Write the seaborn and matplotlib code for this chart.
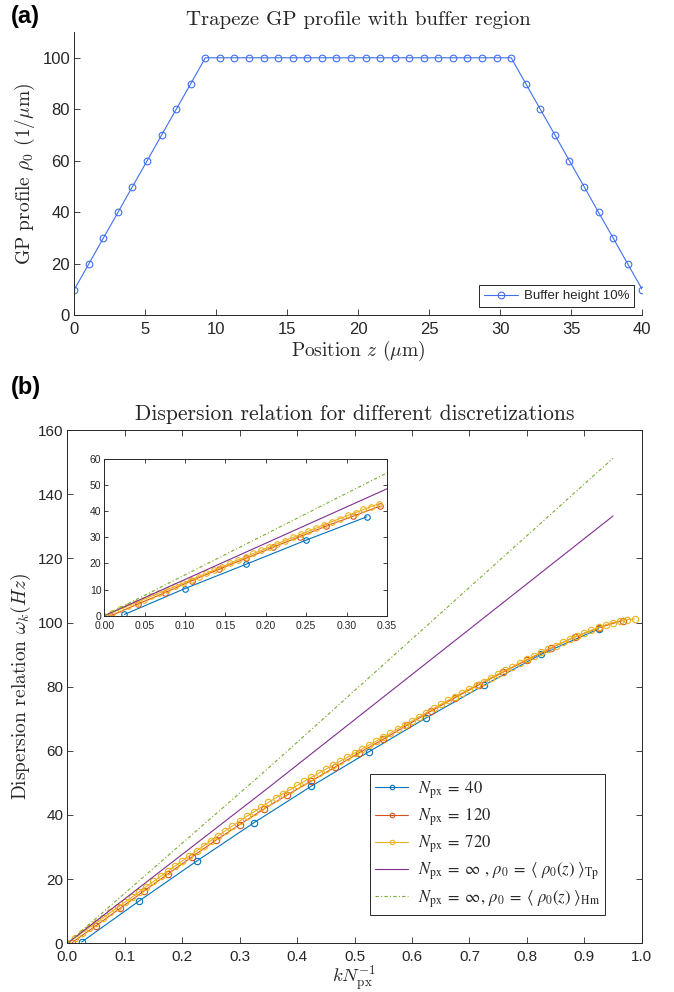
import matplotlib
matplotlib.use('Agg')
import matplotlib.pyplot as plt
from matplotlib.font_manager import FontProperties
from matplotlib.ticker import FormatStrFormatter
import seaborn as sns

# ---- (a) trapeze GP profile, 40 grid points ----
z_pos = [0.00, 1.03, 2.05, 3.08, 4.10, 5.13, 6.15, 7.18, 8.21, 9.23,
         10.26, 11.28, 12.31, 13.33, 14.36, 15.38, 16.41, 17.44, 18.46, 19.49,
         20.51, 21.54, 22.56, 23.59, 24.62, 25.64, 26.67, 27.69, 28.72, 29.74,
         30.77, 31.79, 32.82, 33.85, 34.87, 35.90, 36.92, 37.95, 38.97, 40.00]
gp_profile = [10, 20, 30, 40, 50, 60, 70, 80, 90, 100,
              100, 100, 100, 100, 100, 100, 100, 100, 100, 100,
              100, 100, 100, 100, 100, 100, 100, 100, 100, 100,
              100, 90, 80, 70, 60, 50, 40, 30, 20, 10]

# ---- (b) dispersion relation, main axes ----
k_40 = [0.025, 0.125, 0.225, 0.325, 0.425, 0.525, 0.625, 0.725, 0.825, 0.925]
w_40 = [0.4, 13.2, 25.6, 37.6, 49.0, 59.7, 70.3, 80.4, 90.1, 98.0]

k_120 = [0.0083, 0.0500, 0.0917, 0.1333, 0.1750, 0.2167, 0.2583, 0.3000,
         0.3417, 0.3833, 0.4250, 0.4667, 0.5083, 0.5500, 0.5917, 0.6333,
         0.6750, 0.7167, 0.7583, 0.8000, 0.8417, 0.8833, 0.9250, 0.9667]
w_120 = [0.2, 5.5, 10.9, 16.3, 21.6, 26.9, 32.1, 37.0,
         41.8, 46.3, 50.6, 55.0, 59.4, 63.6, 68.0, 72.4,
         76.6, 80.6, 84.5, 88.3, 92.0, 95.5, 98.4, 100.6]

k_720 = [0.0000, 0.0125, 0.0250, 0.0375, 0.0500, 0.0625, 0.0750, 0.0875,
         0.1000, 0.1125, 0.1250, 0.1375, 0.1500, 0.1625, 0.1750, 0.1875,
         0.2000, 0.2125, 0.2250, 0.2375, 0.2500, 0.2625, 0.2750, 0.2875,
         0.3000, 0.3125, 0.3250, 0.3375, 0.3500, 0.3625, 0.3750, 0.3875,
         0.4000, 0.4125, 0.4250, 0.4375, 0.4500, 0.4625, 0.4750, 0.4875,
         0.5000, 0.5125, 0.5250, 0.5375, 0.5500, 0.5625, 0.5750, 0.5875,
         0.6000, 0.6125, 0.6250, 0.6375, 0.6500, 0.6625, 0.6750, 0.6875,
         0.7000, 0.7125, 0.7250, 0.7375, 0.7500, 0.7625, 0.7750, 0.7875,
         0.8000, 0.8125, 0.8250, 0.8375, 0.8500, 0.8625, 0.8750, 0.8875,
         0.9000, 0.9125, 0.9250, 0.9375, 0.9500, 0.9625, 0.9750, 0.9875]
w_720 = [0.0, 1.6, 3.2, 4.8, 6.4, 8.0, 9.6, 11.2,
         12.8, 14.4, 16.0, 17.7, 19.3, 20.9, 22.5, 24.1,
         25.7, 27.3, 28.8, 30.4, 32.0, 33.5, 35.1, 36.6,
         38.1, 39.6, 41.0, 42.5, 43.9, 45.3, 46.6, 47.9,
         49.2, 50.5, 51.8, 53.0, 54.3, 55.5, 56.8, 58.0,
         59.3, 60.5, 61.8, 63.0, 64.2, 65.5, 66.8, 68.0,
         69.3, 70.6, 71.9, 73.2, 74.5, 75.7, 76.9, 78.1,
         79.3, 80.5, 81.6, 82.8, 84.0, 85.1, 86.2, 87.4,
         88.5, 89.6, 90.7, 91.8, 92.8, 93.8, 94.8, 95.8,
         96.7, 97.6, 98.5, 99.3, 100.0, 100.5, 100.9, 101.1]

k_theory = [0.0, 0.35, 0.95]
w_tp = [0.0, 48.5, 133.2]
w_hm = [0.0, 54.6, 151.2]

# ---- (b) inset, zoom on small k ----
k_40_in = [0.025, 0.100, 0.175, 0.250, 0.325]
w_40_in = [0.5, 10.4, 19.6, 28.9, 37.8]

k_120_in = [0.0083, 0.0417, 0.0750, 0.1083, 0.1417, 0.1750,
            0.2083, 0.2417, 0.2750, 0.3083, 0.3417]
w_120_in = [0.0, 4.5, 8.8, 13.4, 17.7, 21.9, 26.1, 30.2, 34.3, 38.1, 41.9]

k_720_in = [0.0000, 0.0097, 0.0194, 0.0292, 0.0389, 0.0486, 0.0583, 0.0681,
            0.0778, 0.0875, 0.0972, 0.1069, 0.1167, 0.1264, 0.1361, 0.1458,
            0.1556, 0.1653, 0.1750, 0.1847, 0.1944, 0.2042, 0.2139, 0.2236,
            0.2333, 0.2431, 0.2528, 0.2625, 0.2722, 0.2819, 0.2917, 0.3014,
            0.3111, 0.3208, 0.3306, 0.3403]
w_720_in = [0.0, 1.2, 2.5, 3.7, 5.0, 6.2, 7.5, 8.7,
            10.0, 11.2, 12.4, 13.7, 14.9, 16.2, 17.5, 18.8,
            20.0, 21.3, 22.5, 23.8, 25.0, 26.2, 27.5, 28.7,
            29.9, 31.1, 32.3, 33.5, 34.8, 36.0, 37.1, 38.3,
            39.4, 40.6, 41.7, 42.8]

legend_b = [r'$N_{\mathrm{px}}\;=\;40$',
            r'$N_{\mathrm{px}}\;=\;120$',
            r'$N_{\mathrm{px}}\;=\;720$',
            r'$N_{\mathrm{px}}\;=\;\infty\ ,\,\rho_0\;=\;\langle\ \rho_0(z)\ \rangle_{\mathrm{Tp}}$',
            r'$N_{\mathrm{px}}\;=\;\infty,\,\rho_0\;=\;\langle\ \rho_0(z)\ \rangle_{\mathrm{Hm}}$']

c_prof = '#4070f0'
c_40, c_120, c_720 = '#0072BD', '#D95319', '#EDB120'
c_tp, c_hm = '#7E2F8E', '#77AC30'
ink = '#262626'

sns.set_theme(style='ticks')
plt.rcParams['font.family'] = ['Liberation Sans', 'DejaVu Sans']
plt.rcParams['mathtext.fontset'] = 'cm'
plt.rcParams['axes.unicode_minus'] = False


def style_axes(ax, box=True, size=11):
    ax.tick_params(direction='in', length=4.5, width=0.6, colors=ink,
                   labelsize=size, top=box, right=box, pad=3)
    for name, sp in ax.spines.items():
        sp.set_color(ink)
        sp.set_linewidth(0.7)
        if not box and name in ('top', 'right'):
            sp.set_visible(False)


def draw(ax, k, w, color, ms=4.0, ls='-', marker=True):
    kw = dict(color=color, linewidth=0.8, linestyle=ls)
    if marker:
        kw.update(marker='o', markersize=ms, markerfacecolor='none',
                  markeredgecolor=color, markeredgewidth=0.8)
    sns.lineplot(x=k, y=w, ax=ax, sort=False, estimator=None, legend=False, **kw)


fig = plt.figure(figsize=(6.74, 9.92), dpi=100)
serif = 'cmr10'

# ---------- panel (a) ----------
ax_a = fig.add_axes([0.1102, 0.6822, 0.8427, 0.2855])
draw(ax_a, z_pos, gp_profile, c_prof, ms=4.8)
ax_a.set_xlim(0, 40)
ax_a.set_ylim(0, 110)
ax_a.set_xticks(range(0, 41, 5))
ax_a.set_yticks(range(0, 101, 20))
style_axes(ax_a, box=False, size=12)
ax_a.tick_params(axis='x', pad=5)
ax_a.set_title('Trapeze GP profile with buffer region', fontfamily=serif,
               fontsize=15, pad=5)
ax_a.set_xlabel(r'Position $z$ ($\mu$m)', fontfamily=serif, fontsize=14, labelpad=1)
ax_a.set_ylabel(r'GP profile $\rho_0$ (1/$\mu$m)', fontfamily=serif, fontsize=14, labelpad=4)
leg_a = ax_a.legend(handles=ax_a.lines[:1], labels=['Buffer height 10%'],
                    loc='lower right', bbox_to_anchor=(0.985, 0.03), borderaxespad=0,
                    fontsize=9.5, fancybox=False, framealpha=1, edgecolor=ink,
                    handlelength=2.6, borderpad=0.35, handletextpad=0.4)
leg_a.get_frame().set_linewidth(0.7)

# ---------- panel (b) ----------
ax_b = fig.add_axes([0.0999, 0.0491, 0.8522, 0.5174])
draw(ax_b, k_40, w_40, c_40, ms=4.6)
draw(ax_b, k_120, w_120, c_120, ms=4.6)
draw(ax_b, k_720, w_720, c_720, ms=4.6)
draw(ax_b, k_theory, w_tp, c_tp, marker=False)
draw(ax_b, k_theory, w_hm, c_hm, ls=(0, (3, 2, 1, 2)), marker=False)
ax_b.set_xlim(0, 1)
ax_b.set_ylim(0, 160)
ax_b.set_xticks([i / 10 for i in range(11)])
ax_b.set_yticks(range(0, 161, 20))
ax_b.xaxis.set_major_formatter(FormatStrFormatter('%.1f'))
style_axes(ax_b, box=True, size=11)
ax_b.tick_params(axis='x', pad=5)
ax_b.set_title('Dispersion relation for different discretizations', fontfamily=serif,
               fontsize=15.5, pad=7)
ax_b.set_xlabel(r'$kN_{\mathrm{px}}^{-1}$', fontsize=13.5, labelpad=-1)
ax_b.set_ylabel(r'Dispersion relation $\omega_k(Hz)$', fontfamily=serif, fontsize=14,
                labelpad=3)
leg_font = FontProperties(family='Liberation Serif', size=12, math_fontfamily='stix')
leg_b = ax_b.legend(handles=ax_b.lines[:5], labels=legend_b, prop=leg_font,
                    loc='upper left', bbox_to_anchor=(0.527, 0.330), borderaxespad=0,
                    fancybox=False, framealpha=1, edgecolor=ink, handlelength=2.0,
                    labelspacing=0.34, borderpad=0.3, handletextpad=0.6, markerscale=0.7)
leg_b.get_frame().set_linewidth(0.7)

# ---------- inset ----------
ax_in = fig.add_axes([0.1547, 0.3793, 0.4195, 0.1583])
draw(ax_in, k_40_in, w_40_in, c_40, ms=4.0)
draw(ax_in, k_120_in, w_120_in, c_120, ms=4.0)
draw(ax_in, k_720_in, w_720_in, c_720, ms=4.0)
draw(ax_in, k_theory, w_tp, c_tp, marker=False)
draw(ax_in, k_theory, w_hm, c_hm, ls=(0, (3, 2, 1, 2)), marker=False)
ax_in.set_xlim(0, 0.35)
ax_in.set_ylim(0, 60)
ax_in.set_xticks([i * 0.05 for i in range(8)])
ax_in.set_yticks(range(0, 61, 10))
ax_in.xaxis.set_major_formatter(FormatStrFormatter('%.2f'))
style_axes(ax_in, box=True, size=7.5)
ax_in.tick_params(length=3, pad=2)
ax_in.tick_params(axis='x', pad=4)
ax_in.set_xlabel('')
ax_in.set_ylabel('')

fig.text(0.016, 0.995, '(a)', fontsize=17, fontweight='bold', va='top', color='black')
fig.text(0.016, 0.621, '(b)', fontsize=17, fontweight='bold', va='top', color='black')

fig.savefig('out.png', dpi=100)
